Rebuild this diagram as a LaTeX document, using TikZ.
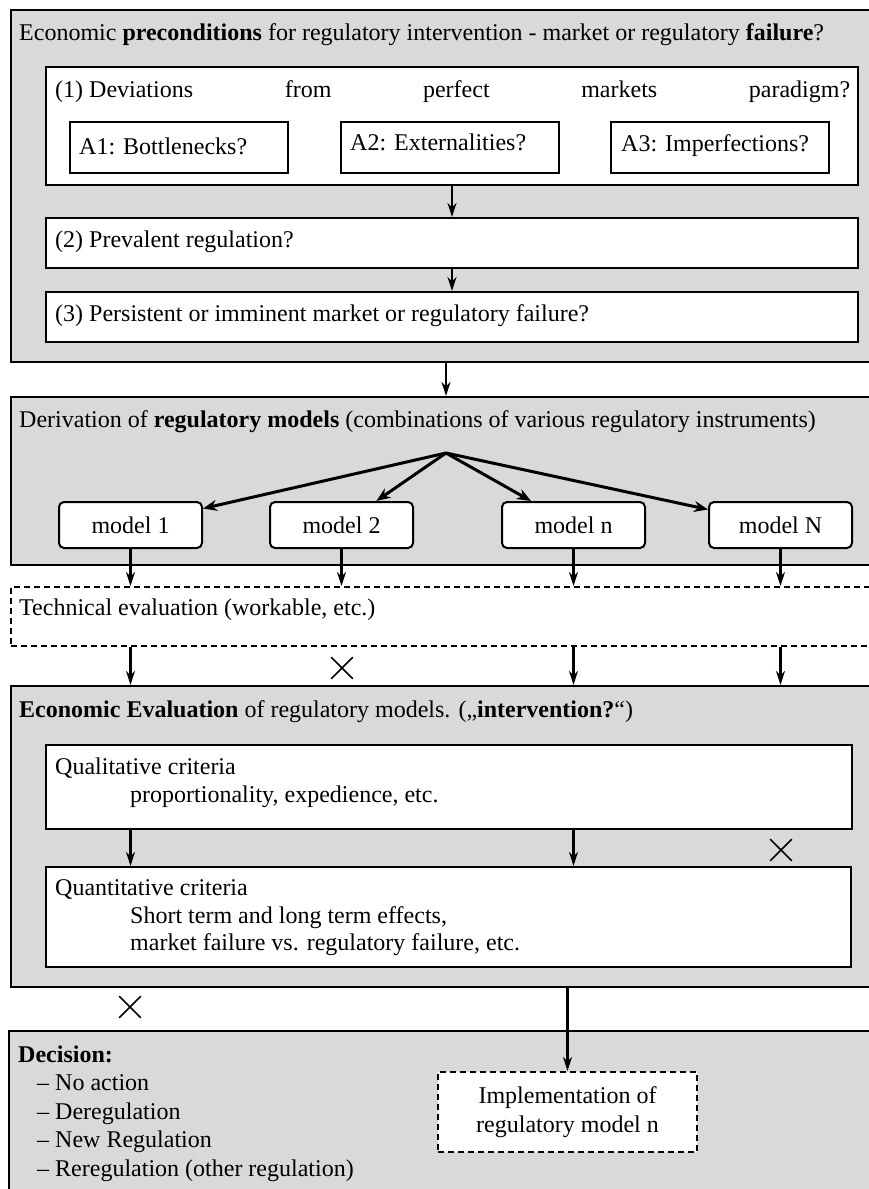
\documentclass[tikz,border=0pt]{standalone}
\usepackage{fontspec}
\setmainfont{Liberation Serif}
\usetikzlibrary{arrows.meta,shapes.misc}
\definecolor{panelgray}{RGB}{217,217,217}
\tikzset{
  panel/.style={draw, line width=2.2pt, fill=panelgray, inner sep=0pt},
  whitebox/.style={draw, line width=2.2pt, fill=white, inner sep=0pt},
  modelbox/.style={draw, line width=2pt, fill=white, rounded corners=5pt, inner sep=0pt,
    minimum width=143pt, minimum height=46pt},
  dashbox/.style={draw, line width=2pt, dash pattern=on 6pt off 4pt, inner sep=0pt},
  arr/.style={line width=2.1pt, -{Stealth[length=14pt,width=9pt,inset=4.5pt]}},
  fanarr/.style={line width=3pt, -{Stealth[length=14pt,width=11pt,inset=4.5pt]}},
  txt/.style={inner sep=0pt, anchor=west, font=\fontsize{24}{28.5}\selectfont},
  veto/.style={cross out, draw, line width=1.6pt, minimum size=20pt, inner sep=0pt},
}
\begin{document}
\begin{tikzpicture}[x=1pt, y=-1pt]
\useasboundingbox (0,0) rectangle (869,1189);
\clip (0,0) rectangle (869,1189);

% ---- economic preconditions ----
\node[panel, minimum width=870pt, minimum height=352pt] (pre) at (446,186) {};
\node[txt] (preT) at (19,35) {Economic \textbf{preconditions} for regulatory intervention - market or regulatory \textbf{failure}?};
\node[whitebox, minimum width=812pt, minimum height=118pt] (dev) at (452,126) {};
\node[txt] (devT) at (55,92) {\makebox[795pt][l]{(1) Deviations\hfill from\hfill perfect\hfill markets\hfill paradigm?}};
\node[whitebox, minimum width=218pt, minimum height=51pt] (a1) at (179,147.5) {};
\node[whitebox, minimum width=218pt, minimum height=51pt] (a2) at (450,147.5) {};
\node[whitebox, minimum width=218pt, minimum height=51pt] (a3) at (720,147.5) {};
\node[txt] (a1T) at (79,146) {A1: Bottlenecks?};
\node[txt] (a2T) at (350,142) {A2: Externalities?};
\node[txt] (a3T) at (621,146) {A3: Imperfections?};
\node[whitebox, minimum width=812pt, minimum height=50pt] (prev) at (452,243) {};
\node[txt] (prevT) at (55,242) {(2) Prevalent regulation?};
\node[whitebox, minimum width=812pt, minimum height=50pt] (pers) at (452,317) {};
\node[txt] (persT) at (55,316) {(3) Persistent or imminent market or regulatory failure?};
\draw[arr] (dev.south) -- (prev.north);
\draw[arr] (prev.south) -- (pers.north);

% ---- regulatory models ----
\node[panel, minimum width=870pt, minimum height=168pt] (der) at (446,481) {};
\draw[arr] (pre.south) -- (der.north);
\node[txt] (derT) at (19,422) {Derivation of \textbf{regulatory models} (combinations of various regulatory instruments)};
\coordinate (fan) at (446,453);
\node[modelbox, font=\fontsize{24}{28.5}\selectfont] (m1) at (130.5,525) {model 1};
\node[modelbox, font=\fontsize{24}{28.5}\selectfont] (m2) at (341.5,525) {model 2};
\node[modelbox, font=\fontsize{24}{28.5}\selectfont] (mn) at (573.5,525) {model n};
\node[modelbox, font=\fontsize{24}{28.5}\selectfont] (mN) at (780.5,525) {model N};
\foreach \m in {m1,m2,mn,mN} \draw[fanarr] (fan) -- (\m);

% ---- technical evaluation ----
\node[dashbox, minimum width=870pt, minimum height=59pt] (tech) at (446,616.5) {};
\node[txt] (techT) at (19,610) {Technical evaluation (workable, etc.)};
\foreach \m in {m1,m2,mn,mN} \draw[arr] (\m.south) -- (\m.south |- tech.north);

% ---- economic evaluation ----
\node[panel, minimum width=870pt, minimum height=301pt] (eco) at (446,836.5) {};
\foreach \m in {m1,mn,mN} \draw[arr] (tech.south -| \m) -- (eco.north -| \m);
\node[veto] (x1) at (342,668) {};
\node[txt] (ecoT) at (19,712) {\textbf{Economic Evaluation} of regulatory models. („\textbf{intervention?}“)};
\node[whitebox, minimum width=806pt, minimum height=84pt] (qual) at (449,787) {};
\node[txt, align=left, font=\fontsize{24}{28}\selectfont] (qualT) at (55,783)
  {Qualitative criteria\\\hspace*{75pt}proportionality, expedience, etc.};
\node[whitebox, minimum width=805pt, minimum height=100pt] (quant) at (448.5,917) {};
\node[txt, align=left, font=\fontsize{24}{27.5}\selectfont] (quantT) at (55,918)
  {Quantitative criteria\\\hspace*{75pt}Short term and long term effects,\\\hspace*{75pt}market failure vs. regulatory failure, etc.};
\foreach \m in {m1,mn} \draw[arr] (qual.south -| \m) -- (quant.north -| \m);
\node[veto] (x2) at (781,850) {};

% ---- decision ----
\node[panel, minimum width=872pt, minimum height=209pt] (dec) at (445,1135.5) {};
\node[veto] (x3) at (130,1007) {};
\node[txt, align=left] (decT) at (18,1113.5)
  {\textbf{Decision:}\\\hspace*{19pt}– No action\\\hspace*{19pt}– Deregulation\\\hspace*{19pt}– New Regulation\\\hspace*{19pt}– Reregulation (other regulation)};
\node[dashbox, fill=white, minimum width=259pt, minimum height=80pt, align=center,
  font=\fontsize{24}{29}\selectfont] (impl) at (567.5,1112) {Implementation of\\regulatory model n};
\draw[arr] (eco.south -| impl) -- (impl.north);
\end{tikzpicture}
\end{document}
